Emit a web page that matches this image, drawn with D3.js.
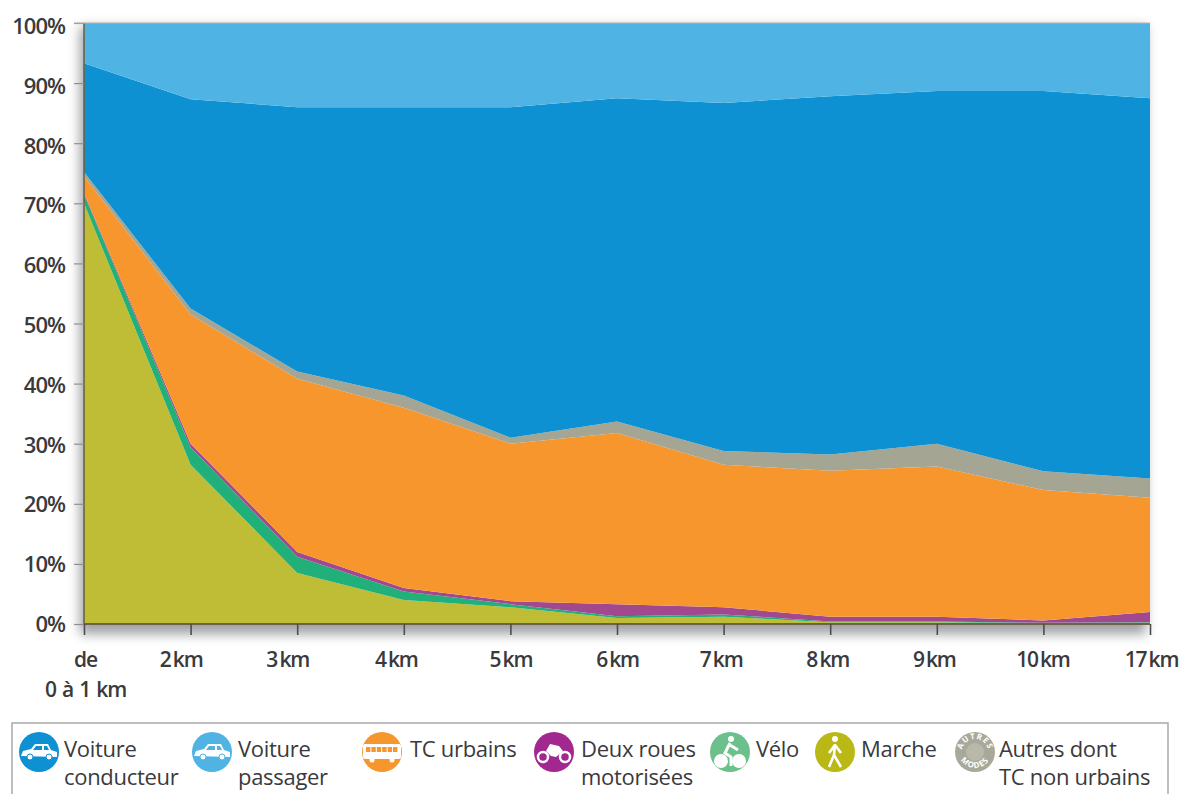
<!DOCTYPE html>
<html><head><meta charset="utf-8">
<script src="https://cdn.jsdelivr.net/npm/d3@7"></script>
<style>
html,body{margin:0;padding:0;background:#fff;overflow:hidden}
svg{display:block}
text{font-family:"Open Sans",sans-serif;fill:#3a3a3c}
</style></head><body>
<svg id="c" width="1179" height="794"></svg>
<script>
const distances = ["de|0 à 1 km","2 km","3 km","4 km","5 km","6 km","7 km","8 km","9 km","10 km","17 km"];
const marche    = [70,26.5,8.5,4,2.8,1,1.2,0.3,0.3,0.1,0.2];
const velo      = [1.5,2.9,2.7,1.4,0.5,0.3,0.4,0.1,0.1,0.1,0.1];
const deuxRoues = [0.2,0.6,0.8,0.6,0.5,2,1.2,0.8,0.8,0.4,1.7];
const tcUrbains = [2.8,21.5,28.8,30,26.2,28.5,23.7,24.3,25,21.7,19];
const autres    = [0.7,1,1.2,2,1,1.9,2.3,2.7,3.8,3.1,3.2];
const conducteur= [18.1,34.8,44,48,55,53.8,57.9,59.6,58.7,63.3,63.3];
const passager  = [6.7,12.7,14,14,14,12.5,13.3,12.2,11.3,11.3,12.5];
const seriesNames = ["marche","velo","deux","tc","autres","cond","pass"];
const seriesValues = [marche,velo,deuxRoues,tcUrbains,autres,conducteur,passager];
const colors = {marche:"#bfbc35",velo:"#22b07a",deux:"#a2488f",tc:"#f7962d",autres:"#a5a594",cond:"#0d91d3",pass:"#4fb3e3"};
const yTicks = [0,10,20,30,40,50,60,70,80,90,100];

const svg = d3.select("#c");
const L=84,R=1150,T=23,B=624;
const x = d3.scalePoint().domain(distances).range([L,R]);
const y = d3.scaleLinear().domain([0,100]).range([B,T]);

const rows = distances.map((d,i)=>{const o={d};seriesNames.forEach((n,k)=>o[n]=seriesValues[k][i]);return o;});
const stacked = d3.stack().keys(seriesNames)(rows);

const defs = svg.append("defs");
const f = defs.append("filter").attr("id","sh").attr("x","-10%").attr("y","-10%").attr("width","120%").attr("height","120%");
f.append("feGaussianBlur").attr("stdDeviation",6);
svg.append("rect").attr("x",L-4).attr("y",T+4).attr("width",R-L).attr("height",B-T+6)
   .attr("fill","#5d6068").attr("opacity",.6).attr("filter","url(#sh)");
svg.append("rect").attr("x",L).attr("y",T).attr("width",R-L).attr("height",B-T).attr("fill","#fff");

const area = d3.area().x(d=>x(d.data.d)).y0(d=>y(d[0])).y1(d=>y(d[1])).curve(d3.curveLinear);
svg.append("g").selectAll("path").data(stacked).join("path")
   .attr("d",area).attr("fill",d=>colors[d.key]);

// axes
const yAxis = svg.append("g").attr("transform",`translate(${L},0)`).call(d3.axisLeft(y).tickValues(yTicks).tickSize(10).tickPadding(9).tickFormat(d=>d+"%"));
yAxis.selectAll("line").attr("stroke","#8f8f8f").attr("stroke-width",1.2);
yAxis.select(".domain").attr("stroke","#6b6444").attr("stroke-width",1.6).attr("d",`M0,${T}V${B}`);
yAxis.selectAll("text").attr("font-size",22).attr("font-weight",600).attr("letter-spacing",-1)
  .attr("dy","0.34em").attr("y",d=>d*0.03).style("font-family",'"Open Sans",sans-serif');

const labelShift = [1,-10,-10,-8,0,0,-3,-3,-3,-1,1];
const xAxis = svg.append("g").attr("transform",`translate(0,${B})`).call(d3.axisBottom(x).tickSize(11).tickFormat(""));
xAxis.selectAll("line").attr("stroke","#4d4d4d").attr("stroke-width",1.6);
xAxis.select(".domain").attr("stroke","#6b6444").attr("stroke-width",2).attr("d",`M${L},0H${R}`);
xAxis.selectAll(".tick").each(function(d,idx){
  const parts=d.split("|");
  const g=d3.select(this);
  parts.forEach((p,i)=>g.append("text").attr("text-anchor","middle")
     .attr("x",labelShift[idx]).attr("y",43+i*30)
     .attr("font-size",21).attr("font-weight",600)
     .attr("letter-spacing",-1.2).attr("word-spacing",i==1?2:-2).text(p));
});

// top border
svg.append("line").attr("x1",L-10).attr("x2",R).attr("y1",T).attr("y2",T).attr("stroke","#b9b4a8").attr("stroke-width",1.2);

// legend
svg.append("rect").attr("x",12).attr("y",723).attr("width",1156).attr("height",90).attr("fill","#fff").attr("stroke","#a9a9a9").attr("stroke-width",1.5);
const legendNames = ["cond","pass","tc","deux","velo","marche","autres"];
const legendLabels = [["Voiture","conducteur"],["Voiture","passager"],["TC urbains"],["Deux roues","motorisées"],["Vélo"],["Marche"],["Autres dont","TC non urbains"]];
const legendIcon = [39,212,382,554,730,835,975];
const legendText = [64,238,410,581,756,861,999];
const iconColor = {cond:"#0d91d3",pass:"#4fb3e3",tc:"#f7962d",deux:"#a2288f",velo:"#6cc08b",marche:"#b9b814",autres:"#a9a99a"};
legendNames.forEach((n,i)=>{
  const g=svg.append("g").attr("transform",`translate(${legendIcon[i]},752)`);
  g.append("circle").attr("r",20).attr("fill",iconColor[n]);
  const w="#fff";
  if(n=="cond"||n=="pass"){
    g.append("path").attr("d","M-18,4 L-16,-1 L-8,-3 L-4,-8 L9,-8 L12,-2 L18,0 L18,5 Z").attr("fill",w);
    g.append("path").attr("d","M-3,-6H3V-2H-6ZM5,-6H8L10,-2H5Z").attr("fill",iconColor[n]);
    g.append("circle").attr("cx",-9).attr("cy",5).attr("r",3).attr("fill",w).attr("stroke",iconColor[n]);
    g.append("circle").attr("cx",10).attr("cy",5).attr("r",3).attr("fill",w).attr("stroke",iconColor[n]);
  } else if(n=="tc"){
    g.append("rect").attr("x",-19).attr("y",-8).attr("width",38).attr("height",15).attr("rx",2).attr("fill",w);
    g.append("g").selectAll("rect").data(d3.range(6)).join("rect").attr("x",d=>-16+d*5.4).attr("y",-5).attr("width",4.4).attr("height",5).attr("fill",iconColor[n]);
    g.append("circle").attr("cx",-10).attr("cy",8).attr("r",2.5).attr("fill",w);
    g.append("circle").attr("cx",10).attr("cy",8).attr("r",2.5).attr("fill",w);
  } else if(n=="deux"){
    g.append("circle").attr("cx",-11).attr("cy",5).attr("r",5).attr("fill","none").attr("stroke",w).attr("stroke-width",2.5);
    g.append("circle").attr("cx",11).attr("cy",5).attr("r",5).attr("fill","none").attr("stroke",w).attr("stroke-width",2.5);
    g.append("path").attr("d","M-8,-1 L-4,-8 L5,-6 L9,-1 L2,5 L-3,4 Z").attr("fill",w);
  } else if(n=="velo"){
    g.append("circle").attr("cx",-9).attr("cy",9).attr("r",7).attr("fill",w);
    g.append("circle").attr("cx",9).attr("cy",9).attr("r",7).attr("fill",w);
    g.append("circle").attr("cx",1).attr("cy",-13).attr("r",3).attr("fill",w);
    g.append("path").attr("d","M0,-9 L-5,1 L1,5 L1,14 M0,-7 L8,-2").attr("fill","none").attr("stroke",w).attr("stroke-width",3);
  } else if(n=="marche"){
    g.append("circle").attr("cx",0).attr("cy",-13).attr("r",3).attr("fill",w);
    g.append("path").attr("d","M0,-8 L-1,3 L-6,15 M-1,3 L6,15 M0,-7 L-6,1 M0,-7 L6,1").attr("fill","none").attr("stroke",w).attr("stroke-width",2.6);
  } else {
    g.append("circle").attr("r",9).attr("fill","#b9b9ab");
    defs.append("path").attr("id","arcT").attr("d","M-13,0 A13,13 0 0 1 13,0");
    defs.append("path").attr("id","arcB").attr("d","M-16,0 A16,16 0 0 0 16,0");
    g.append("text").attr("font-size",8).attr("font-weight",700).style("fill","#fff").attr("text-anchor","middle").attr("letter-spacing",1)
      .append("textPath").attr("href","#arcT").attr("startOffset","50%").text("AUTRES");
    g.append("text").attr("font-size",8).attr("font-weight",700).style("fill","#fff").attr("text-anchor","middle").attr("letter-spacing",1)
      .append("textPath").attr("href","#arcB").attr("startOffset","50%").text("MODES");
  }
  legendLabels[i].forEach((t,k)=>svg.append("text").attr("x",legendText[i]).attr("y",757+k*28)
     .attr("font-size",22).text(t).attr("letter-spacing",-0.3));
});
</script>
</body></html>
